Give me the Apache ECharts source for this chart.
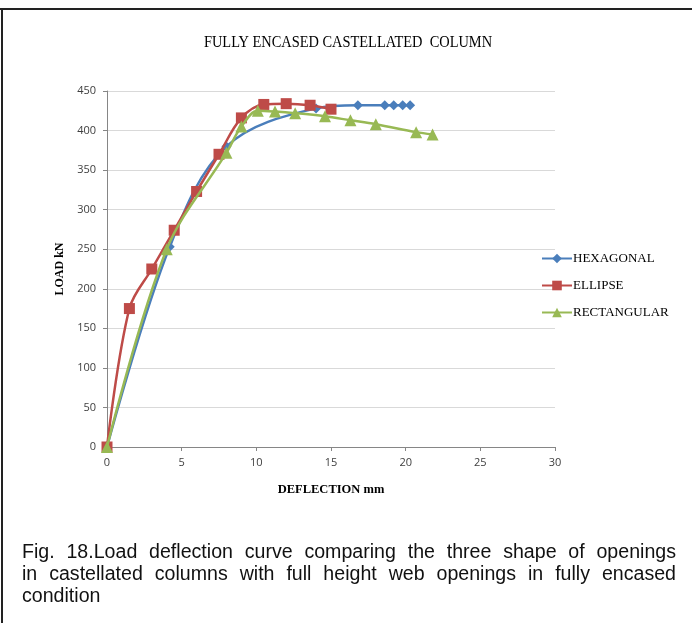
<!DOCTYPE html>
<html>
<head>
<meta charset="utf-8">
<script src="https://cdn.jsdelivr.net/npm/echarts@6/dist/echarts.min.js"></script>
<style>
  html, body { margin: 0; padding: 0; background: #fff; }
  #frame { position: absolute; left: 0; top: 0; width: 692px; height: 623px; overflow: hidden; }
  #topline { position: absolute; left: 0; top: 8px; width: 692px; height: 2px; background: #222; }
  #leftline { position: absolute; left: 1px; top: 8px; width: 2px; height: 615px; background: #222; }
  #chart { position: absolute; left: 0; top: 0; width: 692px; height: 623px; }
  #caption { position: absolute; left: 22px; top: 540px; width: 654px; font-family: "Liberation Sans", Arial, sans-serif; font-size: 19.6px; line-height: 22px; color: #111; }
  #caption .j { text-align: justify; text-align-last: justify; white-space: nowrap; }
</style>
</head>
<body>
<div id="frame">
  <div id="chart"></div>
  <div id="topline"></div>
  <div id="leftline"></div>
  <div id="caption">
    <div class="j">Fig. 18.Load deflection curve comparing the three shape of openings</div>
    <div class="j">in castellated columns with full height web openings in fully encased</div>
    <div>condition</div>
  </div>
</div>
<script>
// Data (deflection mm, load kN)
const hexX = [0, 4.2, 8.0, 14.0, 16.8, 18.6, 19.2, 19.8, 20.3];
const hexY = [0, 253, 380, 428, 432, 432, 432, 432, 432];

const ellX = [0, 1.5, 3.0, 4.5, 6.0, 7.5, 9.0, 10.5, 12.0, 13.6, 15.0];
const ellY = [0, 175, 225, 274, 323, 370, 416, 433, 434, 432, 427];

const recX = [0, 4.0, 8.0, 9.0, 10.1, 11.25, 12.6, 14.6, 16.3, 18.0, 20.7, 21.8];
const recY = [0, 250, 372, 405, 425, 424, 422, 418, 413, 408, 398, 395];

const seriesNames = ['HEXAGONAL', 'ELLIPSE', 'RECTANGULAR'];
const xTicks = [0, 5, 10, 15, 20, 25, 30];
const yTicks = [0, 50, 100, 150, 200, 250, 300, 350, 400, 450];

const zip = (xs, ys) => xs.map((x, i) => [x, ys[i]]);

const chart = echarts.init(document.getElementById('chart'), null, { renderer: 'canvas' });
const serif = '"Liberation Serif", "Times New Roman", serif';
const tickFont = '"Open Sans", "Liberation Sans", sans-serif';

chart.setOption({
  animation: false,
  backgroundColor: '#fff',
  graphic: [{
    type: 'text',
    x: 348, y: 43,
    originX: 0, originY: 0,
    scaleX: 0.9,
    style: {
      text: 'FULLY ENCASED CASTELLATED  COLUMN',
      font: '16px ' + serif,
      fill: '#000',
      textAlign: 'center',
      textVerticalAlign: 'middle'
    }
  }],
  grid: { left: 107, right: 137, top: 91, bottom: 176 },
  legend: {
    orient: 'vertical',
    left: 536, top: 247,
    itemWidth: 30, itemHeight: 12,
    itemGap: 14,
    data: seriesNames,
    textStyle: { fontFamily: serif, fontSize: 13, color: '#000', padding: [0, 0, 0, -4] }
  },
  xAxis: {
    type: 'value',
    min: 0, max: 30, interval: 5,
    name: 'DEFLECTION mm',
    nameLocation: 'middle',
    nameGap: 36,
    nameTextStyle: { fontFamily: serif, fontSize: 12.5, color: '#000', fontWeight: 'bold' },
    axisLine: { show: true, lineStyle: { color: '#868686', width: 1 } },
    axisTick: { show: true, length: 4, lineStyle: { color: '#868686' } },
    axisLabel: { fontFamily: tickFont, fontSize: 11, color: '#404040', margin: 10,
      formatter: v => (xTicks.indexOf(v) >= 0 ? String(v) : '') },
    splitLine: { show: false }
  },
  yAxis: {
    type: 'value',
    min: 0, max: 450, interval: 50,
    name: 'LOAD kN',
    nameLocation: 'middle',
    nameGap: 39,
    nameTextStyle: { fontFamily: serif, fontSize: 12, color: '#000', fontWeight: 'bold' },
    axisLine: { show: true, lineStyle: { color: '#868686', width: 1 } },
    axisTick: { show: true, length: 4, lineStyle: { color: '#868686' } },
    axisLabel: { fontFamily: tickFont, fontSize: 11, color: '#404040', margin: 11,
      formatter: v => (yTicks.indexOf(v) >= 0 ? String(v) : '') },
    splitLine: { show: true, lineStyle: { color: '#d9d9d9', width: 1 } }
  },
  series: [
    {
      name: seriesNames[0], type: 'line', smooth: 0.35,
      data: zip(hexX, hexY),
      symbol: 'diamond', symbolSize: 10,
      lineStyle: { color: '#4A7EBB', width: 2.5 },
      itemStyle: { color: '#4A7EBB' },
      z: 2
    },
    {
      name: seriesNames[1], type: 'line', smooth: 0.35,
      data: zip(ellX, ellY),
      symbol: 'rect', symbolSize: 11,
      lineStyle: { color: '#BE4B48', width: 2.5 },
      itemStyle: { color: '#BE4B48' },
      z: 3
    },
    {
      name: seriesNames[2], type: 'line', smooth: 0.35,
      data: zip(recX, recY),
      symbol: 'triangle', symbolSize: 12,
      lineStyle: { color: '#98B954', width: 2.5 },
      itemStyle: { color: '#98B954' },
      z: 4
    }
  ]
});
</script>
</body>
</html>
